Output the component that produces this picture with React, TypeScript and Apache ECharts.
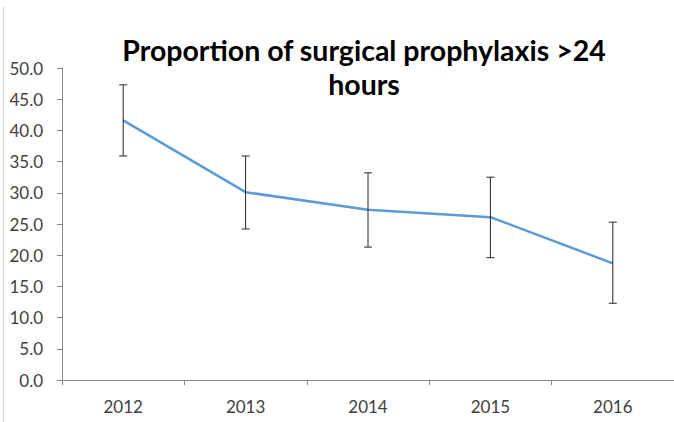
import React, { useEffect, useRef } from "react";
import * as echarts from "echarts";

const categories = ["2012", "2013", "2014", "2015", "2016"];
const values = [41.6, 30.1, 27.3, 26.1, 18.7];
const upper = [47.3, 35.9, 33.2, 32.5, 25.3];
const lower = [35.9, 24.2, 21.3, 19.6, 12.3];
const titleText = "Proportion of surgical prophylaxis >24\nhours";

export default function App() {
  const ref = useRef<HTMLDivElement>(null);
  useEffect(() => {
    document.body.style.margin = "0";
    const chart = echarts.init(ref.current!, null, { renderer: "svg" });
    const errData = categories.map((c, i) => [i, lower[i], upper[i]]);
    chart.setOption({
      animation: false,
      backgroundColor: "#ffffff",
      title: {
        text: titleText,
        left: 359,
        top: 28,
        textAlign: "center",
        textStyle: {
          fontFamily: "Lato",
          fontWeight: "bold",
          fontSize: 28.5,
          lineHeight: 34,
          color: "#000000",
        },
      },
      graphic: [
        {
          type: "line",
          shape: { x1: 3.5, y1: 6, x2: 3.5, y2: 422 },
          style: { stroke: "#d9d9d9", lineWidth: 1 },
        },
      ],
      grid: { left: 62, top: 68, width: 615, bottom: 42, containLabel: false },
      xAxis: {
        type: "category",
        data: categories,
        boundaryGap: true,
        axisLine: { lineStyle: { color: "#868686", width: 1 } },
        axisTick: { show: true, length: 5, lineStyle: { color: "#868686" } },
        axisLabel: { fontFamily: "Lato", fontSize: 17, color: "#404040", margin: 18 },
      },
      yAxis: {
        type: "value",
        min: 0,
        max: 50,
        interval: 5,
        splitLine: { show: false },
        axisLine: { show: true, lineStyle: { color: "#868686", width: 1 } },
        axisTick: { show: true, length: 5, lineStyle: { color: "#868686" } },
        axisLabel: {
          fontFamily: "Lato",
          fontSize: 17,
          color: "#404040",
          margin: 19,
          formatter: (v: number) => v.toFixed(1),
        },
      },
      series: [
        {
          type: "line",
          data: values,
          symbol: "none",
          lineStyle: { color: "#5B9BD5", width: 2.5 },
          z: 2,
        },
        {
          type: "custom",
          data: errData,
          z: 3,
          renderItem: (params: any, api: any) => {
            const x = api.value(0);
            const lo = api.coord([x, api.value(1)]);
            const hi = api.coord([x, api.value(2)]);
            const w = 4;
            const style = { stroke: "#262626", lineWidth: 1 };
            return {
              type: "group",
              children: [
                { type: "line", shape: { x1: lo[0], y1: lo[1], x2: hi[0], y2: hi[1] }, style },
                { type: "line", shape: { x1: hi[0] - w, y1: hi[1], x2: hi[0] + w, y2: hi[1] }, style },
                { type: "line", shape: { x1: lo[0] - w, y1: lo[1], x2: lo[0] + w, y2: lo[1] }, style },
              ],
            };
          },
        },
      ],
    });
    return () => chart.dispose();
  }, []);
  return <div ref={ref} style={{ width: 674, height: 422 }} />;
}
